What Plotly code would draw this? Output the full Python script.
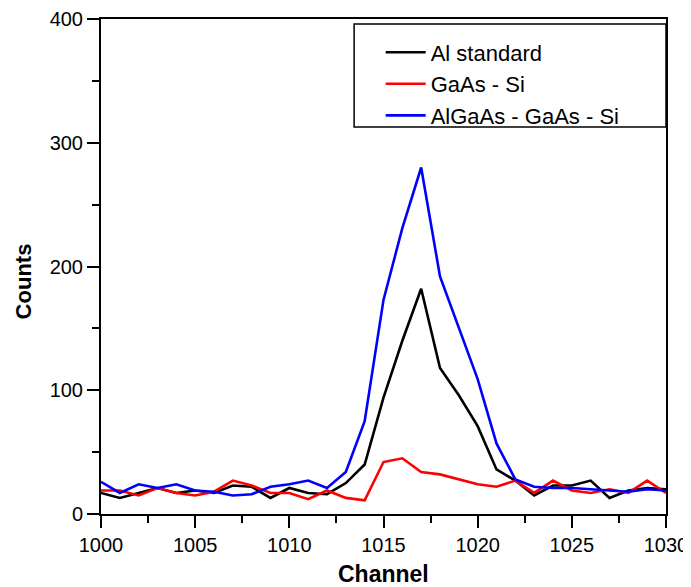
import plotly.graph_objects as go

channels = list(range(1000, 1031))

al_standard = [17, 13, 17, 21, 17, 19, 17, 23, 22, 13, 21, 17,
               16, 25, 40, 94, 140, 182, 118, 96, 71, 36, 27, 15, 23, 23, 27, 13, 19, 21, 20]
gaas_si = [19, 19, 15, 21, 17, 15, 18, 27, 23, 17, 17, 12,
           19, 13, 11, 42, 45, 34, 32, 28, 24, 22, 27, 17, 27, 19, 17, 20, 17, 27, 17]
algaas_gaas_si = [26, 17, 24, 21, 24, 19, 18, 15, 16, 22, 24, 27,
                  21, 34, 75, 173, 231, 280, 192, 151, 109, 57, 28, 22, 21, 21, 20, 19, 18, 20, 19]

series_names = ["Al standard", "GaAs - Si", "AlGaAs - GaAs - Si"]
series_colors = ["#000000", "#ff0000", "#0000ff"]
series_values = [al_standard, gaas_si, algaas_gaas_si]

x_title = "Channel"
y_title = "Counts"

FONT = "Arial, Liberation Sans, sans-serif"

fig = go.Figure()
for name, color, vals in zip(series_names, series_colors, series_values):
    fig.add_trace(go.Scatter(x=channels, y=vals, mode="lines", name=name,
                             line=dict(color=color, width=2.6)))

axis_common = dict(
    showline=True, linecolor="black", linewidth=2, mirror=True,
    ticks="outside", ticklen=12, tickwidth=2, tickcolor="black",
    showgrid=False, zeroline=False, automargin=False,
    tickfont=dict(family=FONT, size=20, color="black"),
)

fig.update_xaxes(range=[1000, 1030], tick0=1000, dtick=5,
                 minor=dict(dtick=2.5, ticks="outside", ticklen=7, tickwidth=2, tickcolor="black"),
                 **axis_common)
fig.update_yaxes(range=[0, 400], tick0=0, dtick=100,
                 minor=dict(dtick=50, ticks="outside", ticklen=7, tickwidth=2, tickcolor="black"),
                 **axis_common)

# axis titles
fig.add_annotation(text="<b>" + x_title + "</b>", xref="paper", yref="paper",
                   x=0.5, y=-0.122, xanchor="center", yanchor="middle", showarrow=False,
                   font=dict(family=FONT, size=23, color="black"))
fig.add_annotation(text="<b>" + y_title + "</b>", xref="paper", yref="paper",
                   x=-0.138, y=0.47, xanchor="center", yanchor="middle", showarrow=False,
                   textangle=-90, font=dict(family=FONT, size=22, color="black"))

# legend frame
fig.add_shape(type="rect", xref="paper", yref="paper",
              x0=0.448, x1=1.0, y0=0.782, y1=0.99,
              line=dict(color="black", width=1.5), fillcolor="white", layer="above")

# page body has an 8px margin, so the figure is sized to the visible area
fig.update_layout(
    width=683, height=579,
    margin=dict(l=93, r=25, t=11, b=73),
    paper_bgcolor="white", plot_bgcolor="white",
    font=dict(family=FONT, color="black"),
    legend=dict(x=0.495, y=0.975, xanchor="left", yanchor="top",
                bgcolor="rgba(0,0,0,0)", borderwidth=0,
                font=dict(family=FONT, size=22, color="black"),
                tracegroupgap=0, itemwidth=40),
)

fig.write_html("out.html")
